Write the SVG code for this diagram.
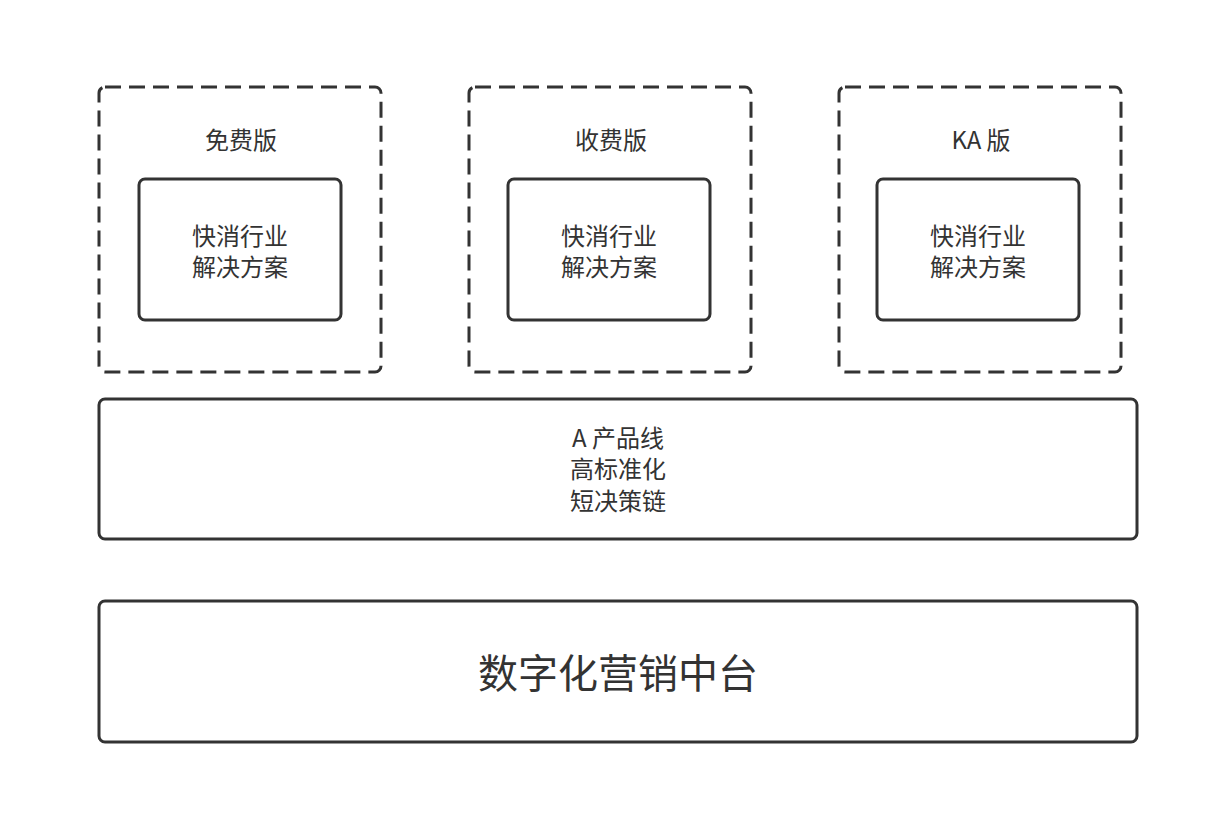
<svg xmlns="http://www.w3.org/2000/svg" width="1224" height="832" viewBox="0 0 1224 832">
<style>
.d{fill:none;stroke:#333;stroke-width:3;stroke-dasharray:16 8}
.b{fill:#fff;stroke:#333;stroke-width:3}
text{font-family:"Noto Sans CJK SC","Noto Sans",sans-serif;fill:#333;text-anchor:middle;font-size:24px}
</style>
<rect width="1224" height="832" fill="#fff"/>
<g id="free"><rect class="d" x="99" y="87" width="282" height="285" rx="6"/><text x="241" y="149">免费版</text>
<rect class="b" x="139" y="179" width="202" height="141" rx="6"/><text x="240" y="245">快消行业</text><text x="240" y="276">解决方案</text></g>
<g id="paid"><rect class="d" x="469" y="87" width="282" height="285" rx="6"/><text x="611" y="149">收费版</text>
<rect class="b" x="508" y="179" width="202" height="141" rx="6"/><text x="609" y="245">快消行业</text><text x="609" y="276">解决方案</text></g>
<g id="ka"><rect class="d" x="839" y="87" width="282" height="285" rx="6"/><text x="981" y="149">KA 版</text>
<rect class="b" x="877" y="179" width="202" height="141" rx="6"/><text x="978" y="245">快消行业</text><text x="978" y="276">解决方案</text></g>
<g id="a"><rect class="b" x="99" y="399" width="1038" height="140" rx="6"/><text x="618" y="447">A 产品线</text><text x="618" y="478">高标准化</text><text x="618" y="510">短决策链</text></g>
<g id="base"><rect class="b" x="99" y="601" width="1038" height="141" rx="6"/><text x="618" y="688" style="font-size:40px">数字化营销中台</text></g>
<g id="connectors"/>
</svg>
